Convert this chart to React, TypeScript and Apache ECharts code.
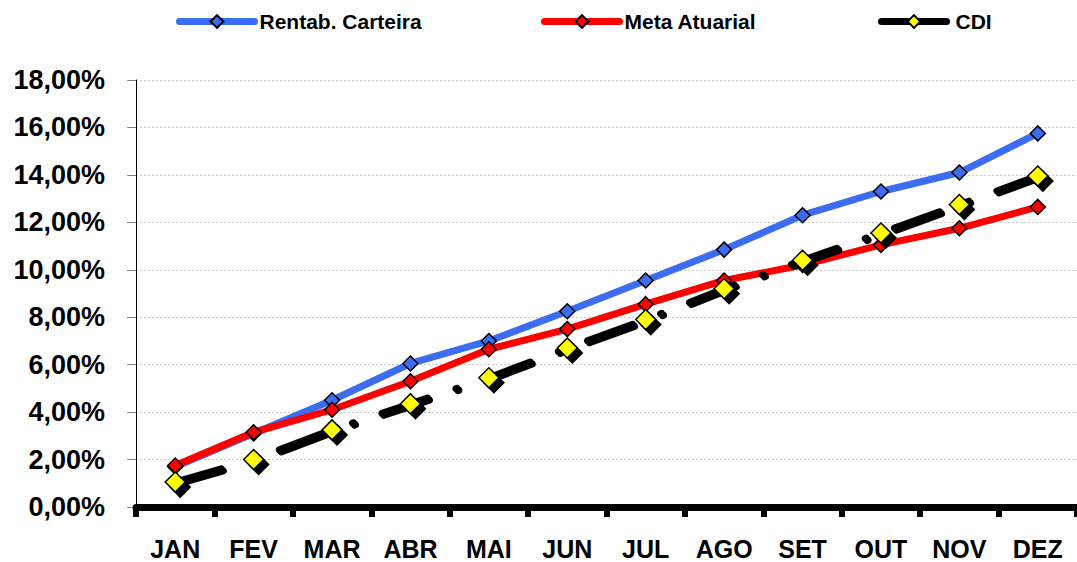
import React, { useEffect, useRef } from "react";
import * as echarts from "echarts";

const months = ["JAN", "FEV", "MAR", "ABR", "MAI", "JUN", "JUL", "AGO", "SET", "OUT", "NOV", "DEZ"];
const rentabCarteira = [1.7, 3.1, 4.5, 6.05, 7.0, 8.25, 9.55, 10.85, 12.3, 13.3, 14.1, 15.75];
const metaAtuarial = [1.75, 3.15, 4.1, 5.3, 6.65, 7.5, 8.55, 9.55, 10.2, 11.05, 11.75, 12.65];
const cdi = [1.05, 2.0, 3.25, 4.35, 5.45, 6.7, 7.9, 9.2, 10.4, 11.55, 12.75, 13.95];
const yTicks = { min: 0, max: 18, interval: 2 };

const FONT = "'Liberation Sans', Arial, sans-serif";

export default function App() {
  const ref = useRef<HTMLDivElement>(null);
  useEffect(() => {
    document.body.style.margin = "0";
    if (!ref.current) return;
    const chart = echarts.init(ref.current, null, { renderer: "svg" });
    const legendText = { fontFamily: FONT, fontWeight: "bold", fontSize: 21, color: "#000" };
    const legendLine = { width: 7, cap: "round", type: "solid" };
    chart.setOption({
      animation: false,
      legend: [
        {
          left: 171, top: 6, itemWidth: 75, itemHeight: 16,
          data: [{ name: "Rentab. Carteira", lineStyle: { ...legendLine, color: "#3B6CF2" } }],
          textStyle: legendText,
        },
        {
          left: 536, top: 6, itemWidth: 75, itemHeight: 16,
          data: [{ name: "Meta Atuarial", lineStyle: { ...legendLine, color: "#FF0000" } }],
          textStyle: legendText,
        },
        {
          left: 873, top: 6, itemWidth: 65, itemHeight: 16,
          data: [{ name: "CDI", lineStyle: { ...legendLine, color: "#000" } }],
          textStyle: { ...legendText, padding: [0, 0, 0, 4] },
        },
      ],
      grid: { left: 136, top: 80, bottom: 55, right: -6 },
      xAxis: {
        type: "category",
        data: months,
        boundaryGap: true,
        axisLine: { lineStyle: { color: "#000", width: 7 } },
        axisTick: { show: true, length: 10, lineStyle: { color: "#000", width: 6 } },
        axisLabel: { interval: 0, fontFamily: FONT, fontWeight: "bold", fontSize: 25, color: "#000", margin: 29 },
        splitLine: { show: false },
      },
      yAxis: {
        type: "value",
        min: yTicks.min,
        max: yTicks.max,
        interval: yTicks.interval,
        axisLine: { show: true, lineStyle: { color: "#000", width: 1 } },
        axisTick: { show: true, length: 9, lineStyle: { color: "#808080", width: 1 } },
        axisLabel: {
          fontFamily: FONT, fontWeight: "bold", fontSize: 27, color: "#000", margin: 31,
          formatter: (v: number) => v.toFixed(2).replace(".", ",") + "%",
        },
        splitLine: { show: true, lineStyle: { color: "#c8c8c8", width: 1, type: [2, 2] } },
      },
      series: [
        {
          name: "Rentab. Carteira",
          type: "line",
          data: rentabCarteira,
          symbol: "diamond",
          symbolSize: 15,
          lineStyle: { color: "#3B6CF2", width: 7 },
          itemStyle: { color: "#3B6CF2", borderColor: "#000", borderWidth: 1.5 },
          z: 2,
        },
        {
          name: "Meta Atuarial",
          type: "line",
          data: metaAtuarial,
          symbol: "diamond",
          symbolSize: 15,
          lineStyle: { color: "#FF0000", width: 7 },
          itemStyle: { color: "#FF0000", borderColor: "#000", borderWidth: 1.5 },
          z: 3,
        },
        {
          name: "CDI",
          type: "line",
          data: cdi,
          symbol: "diamond",
          symbolSize: 20,
          lineStyle: {
            color: "#000", width: 7, type: [48, 30, 1, 30], cap: "round",
            shadowColor: "#000", shadowOffsetX: 2, shadowOffsetY: 2, shadowBlur: 0,
          },
          itemStyle: {
            color: "#FFFF00", borderColor: "#000", borderWidth: 1.5,
            shadowColor: "#000", shadowOffsetX: 5, shadowOffsetY: 5, shadowBlur: 0,
          },
          z: 4,
        },
      ],
    });
    return () => chart.dispose();
  }, []);
  return <div ref={ref} style={{ width: 1077, height: 562 }} />;
}
